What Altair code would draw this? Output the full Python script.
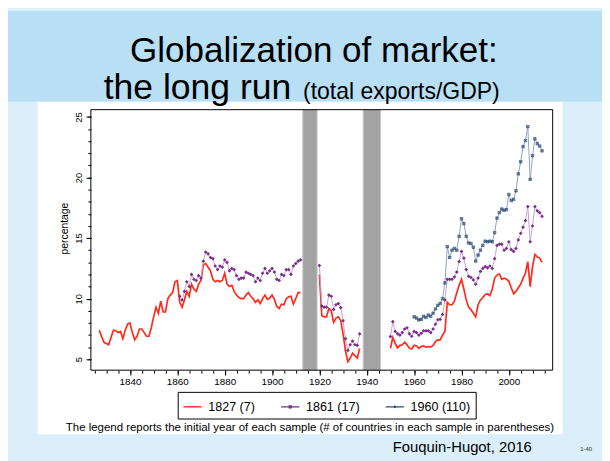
import altair as alt
import pandas as pd

# ---------------- data ----------------
series_labels = ["1827 (7)", "1861 (17)", "1960 (110)"]

red_pre_years = list(range(1827, 1913))
red_pre = [7.4, 6.9, 6.4, 6.3, 6.2, 6.8, 7.4, 7.35, 7.2, 7.3,
           6.7, 7.4, 7.9, 8.0, 7.2, 6.6, 6.9, 7.5, 7.5, 7.2,
           6.9, 6.9, 7.6, 8.5, 9.3, 8.8, 9.8, 8.9, 8.9, 10.0,
           10.3, 10.5, 11.4, 11.5, 9.7, 9.3, 9.9, 10.6, 10.2, 11.2,
           10.8, 10.6, 11.2, 11.5, 12.8, 12.9, 12.6, 12.3, 11.6, 11.4,
           11.5, 11.4, 11.5, 12.1, 11.2, 11.0, 11.1, 10.6, 10.3, 10.1,
           10.0, 10.0, 10.3, 10.5, 10.2, 10.0, 9.7, 9.9, 9.6, 10.0,
           10.3, 9.95, 10.05, 10.3, 9.95, 9.35, 9.2, 9.55, 9.5, 10.0,
           10.15, 10.2, 9.55, 10.0, 10.5, 10.5]

purple_pre_years = list(range(1861, 1913))
purple_pre = [10.2, 9.9, 10.6, 11.4, 11.0, 12.0, 11.6, 11.5, 11.9, 11.7,
              13.1, 13.85, 13.7, 13.4, 13.3, 12.7, 12.4, 12.7, 12.6, 13.2,
              13.0, 12.3, 12.5, 12.4, 11.9, 11.6, 11.7, 11.7, 12.2, 12.1,
              12.0, 11.9, 11.4, 11.7, 11.5, 12.1, 12.5, 12.1, 12.3, 12.5,
              12.2, 11.6, 11.5, 12.0, 11.9, 12.4, 12.4, 12.0, 12.7, 12.9,
              13.1, 13.2]

mid_years = list(range(1920, 1938))
red_mid = [12.0, 8.6, 8.5, 8.5, 9.2, 9.0, 8.05, 8.4, 8.5, 8.2,
           7.1, 5.7, 4.8, 5.1, 5.5, 5.3, 5.1, 5.9]
purple_mid = [12.74, 9.4, 9.3, 9.3, 10.3, 10.2, 9.1, 9.5, 9.6, 9.27,
              8.18, 6.7, 5.73, 6.2, 6.5, 6.2, 6.15, 7.1]

post_years = list(range(1950, 2015))
red_post = [5.9, 6.8, 6.3, 5.95, 6.15, 6.2, 6.4, 6.2, 5.9, 5.85,
            6.15, 6.1, 5.9, 6.05, 6.1, 6.0, 6.05, 6.0, 6.15, 6.45,
            6.6, 6.6, 7.0, 7.3, 9.7, 9.5, 9.5, 9.8, 10.5, 11.1,
            11.6, 10.8, 9.9, 9.3, 9.1, 8.8, 8.5, 9.5, 9.9, 10.1,
            10.35, 10.4, 10.25, 10.8, 11.7, 11.95, 12.05, 11.6, 11.7, 11.6,
            11.45, 10.9, 10.4, 10.6, 10.9, 11.2, 11.7, 12.1, 13.05, 11.0,
            12.65, 13.65, 13.45, 13.35, 13.0]
purple_post = [6.87, 8.1, 7.3, 7.1, 7.0, 7.2, 7.5, 7.6, 7.1, 6.9,
               7.3, 7.2, 7.0, 7.15, 7.35, 7.35, 7.35, 7.2, 7.5, 7.9,
               8.26, 8.3, 8.7, 9.9, 11.6, 11.6, 11.6, 11.8, 12.2, 13.06,
               13.9, 13.35, 12.4, 11.85, 11.75, 11.55, 11.2, 11.7, 12.25, 12.5,
               12.65, 12.55, 12.7, 12.5, 13.3, 14.4, 14.5, 14.5, 14.0, 14.15,
               14.7, 14.05, 13.9, 14.15, 14.85, 15.4, 15.9, 16.45, 17.6, 14.7,
               16.0, 17.6, 17.25, 17.1, 16.8]

blue_years = list(range(1960, 2015))
blue_post = [8.5, 8.4, 8.25, 8.3, 8.55, 8.45, 8.65, 8.55, 8.8, 9.15,
             9.45, 9.6, 10.0, 11.3, 14.3, 13.4, 14.0, 14.15, 14.0, 15.15,
             16.6, 16.2, 15.15, 14.6, 14.55, 14.25, 13.1, 13.6, 14.0, 14.4,
             14.75, 14.7, 14.75, 14.7, 15.45, 16.65, 17.1, 17.4, 17.3, 17.35,
             18.6, 18.1, 18.2, 18.9, 20.3, 21.3, 22.55, 23.05, 24.2, 19.85,
             21.8, 23.2, 22.8, 22.6, 22.2]

war_start = [1913, 1938.5]
war_end = [1919, 1945.8]

x_tick_labels = [1840, 1860, 1880, 1900, 1920, 1940, 1960, 1980, 2000]
x_minor_ticks = list(range(1825, 2019, 5))
y_tick_labels = [5, 10, 15, 20, 25]
y_minor_ticks = list(range(5, 26))

title_line1 = "Globalization of market:"
title_line2a = "the long run"
title_line2b = "(total exports/GDP)"
caption = "The legend reports the initial year of each sample (# of countries in each sample in parentheses)"
source = "Fouquin-Hugot, 2016"
slide_no = "1-40"


# ---------------- tables ----------------
def rows(series, seg, years, vals):
    return [{"series": series, "seg": seg, "year": y, "value": v} for y, v in zip(years, vals)]

red_df = pd.DataFrame(rows("red", "a", red_pre_years, red_pre)
                      + rows("red", "b", mid_years, red_mid)
                      + rows("red", "c", post_years, red_post))
purple_df = pd.DataFrame(rows("purple", "a", purple_pre_years, purple_pre)
                         + rows("purple", "b", mid_years, purple_mid)
                         + rows("purple", "c", post_years, purple_post))
blue_df = pd.DataFrame(rows("blue", "c", blue_years, blue_post))
war_df = pd.DataFrame({"start": war_start, "end": war_end})
legend_df = pd.DataFrame({"series": series_labels})
one = pd.DataFrame({"a": [0]})

FONT = "Liberation Sans"
W, H = 468, 264

xs = alt.Scale(domain=[1823.5, 2018.5], nice=False, zero=False)
ys = alt.Scale(domain=[4.1, 25.6], nice=False, zero=False)

x_major = alt.Axis(values=x_tick_labels, format="d", tickSize=5, labelFontSize=10,
                   labelFont=FONT, labelColor="black", tickColor="black", domain=False,
                   grid=False, title=None, orient="bottom", labelPadding=2, labelFlush=False,
                   zindex=2)
x_minor = alt.Axis(values=x_minor_ticks, tickSize=3, labels=False, domain=False,
                   grid=False, title=None, orient="bottom", tickColor="black", zindex=2)
y_major = alt.Axis(values=y_tick_labels, labelAngle=270, labelAlign="center",
                   labelBaseline="bottom", tickSize=5, labelPadding=3, labelFontSize=9.5,
                   labelFont=FONT, labelColor="black", tickColor="black",
                   title="percentage", titleFont=FONT, titleFontSize=10.5,
                   titleFontWeight="normal", titleColor="black", titlePadding=4,
                   titleY=120, orient="left", domain=False, grid=False, zindex=2)
y_minor = alt.Axis(values=y_minor_ticks, tickSize=3, labels=False, domain=False,
                   grid=False, title=None, orient="left", tickColor="black", zindex=2)

# ---------------- slide decoration ----------------
title_band = alt.Chart(one).mark_rect(color="#b9dff5").encode(
    x=alt.value(-84), x2=alt.value(W + 50), y=alt.value(-100), y2=alt.value(-8))
white_box = alt.Chart(one).mark_rect(color="white").encode(
    x=alt.value(-54), x2=alt.value(478), y=alt.value(-8), y2=alt.value(329))
frame = alt.Chart(one).mark_rect(fill="transparent", stroke="black", strokeWidth=1).encode(
    x=alt.value(0), x2=alt.value(W), y=alt.value(0), y2=alt.value(H))

t1 = alt.Chart(one).mark_text(text=title_line1, font=FONT, fontSize=35.5, align="center",
                              baseline="alphabetic", color="black").encode(
    x=alt.value(226), y=alt.value(-48))
t2a = alt.Chart(one).mark_text(text=title_line2a, font=FONT, fontSize=36, align="left",
                               baseline="alphabetic", color="black").encode(
    x=alt.value(13), y=alt.value(-11))
t2b = alt.Chart(one).mark_text(text=title_line2b, font=FONT, fontSize=23.3, align="left",
                               baseline="alphabetic", color="black").encode(
    x=alt.value(215), y=alt.value(-11))
cap = alt.Chart(one).mark_text(text=caption, font=FONT, fontSize=11.6, align="center",
                               baseline="alphabetic", color="black").encode(
    x=alt.value(222), y=alt.value(326))
src = alt.Chart(one).mark_text(text=source, font=FONT, fontSize=15, align="left",
                               baseline="alphabetic", color="black").encode(
    x=alt.value(306), y=alt.value(347))
num = alt.Chart(one).mark_text(text=slide_no, font=FONT, fontSize=6, align="left",
                               baseline="alphabetic", color="#333333").encode(
    x=alt.value(496), y=alt.value(346))

# ---------------- chart ----------------
wars = alt.Chart(war_df).mark_rect(color="#a3a3a3", stroke="#c4c4c4", strokeWidth=1).encode(
    x=alt.X("start:Q", scale=xs, axis=None), x2="end:Q")

minor = alt.Chart(red_df).mark_point(opacity=0).encode(
    x=alt.X("year:Q", scale=xs, axis=x_minor),
    y=alt.Y("value:Q", scale=ys, axis=y_minor))

red_line = alt.Chart(red_df).mark_line(color="#ff2a1a", strokeWidth=1.7).encode(
    x=alt.X("year:Q", scale=xs, axis=x_major),
    y=alt.Y("value:Q", scale=ys, axis=y_major),
    detail="seg:N")

purple_line = alt.Chart(purple_df).mark_line(color="#c7a2cd", strokeWidth=1).encode(
    x=alt.X("year:Q", scale=xs, axis=None), y=alt.Y("value:Q", scale=ys, axis=None),
    detail="seg:N")
purple_pts = alt.Chart(purple_df).mark_point(filled=True, shape="diamond", size=14,
                                             color="#7a2c8b", opacity=1).encode(
    x=alt.X("year:Q", scale=xs, axis=None), y=alt.Y("value:Q", scale=ys, axis=None))

blue_line = alt.Chart(blue_df).mark_line(color="#8fa3c0", strokeWidth=1).encode(
    x=alt.X("year:Q", scale=xs, axis=None), y=alt.Y("value:Q", scale=ys, axis=None),
    detail="seg:N")
blue_pts = alt.Chart(blue_df).mark_point(
    filled=False, shape="M-1,-1H1V1H-1ZM-1,-1L1,1M1,-1L-1,1", size=6,
    color="#2c4b73", strokeWidth=0.7, opacity=1).encode(
    x=alt.X("year:Q", scale=xs, axis=None), y=alt.Y("value:Q", scale=ys, axis=None))

leg = alt.Legend(orient="none", legendX=88, legendY=286, direction="horizontal",
                 strokeColor="black", fillColor="white", padding=5, labelFontSize=12.7,
                 labelFont=FONT, labelColor="black", symbolSize=340, symbolStrokeWidth=1.4,
                 symbolOpacity=1, columnPadding=22, labelOffset=6)
legend_layer = alt.Chart(legend_df).mark_point(opacity=0, filled=False).encode(
    color=alt.Color("series:N", title=None, legend=leg,
                    scale=alt.Scale(domain=series_labels,
                                    range=["#ff2a1a", "#7a2c8b", "#2c4b73"])),
    shape=alt.Shape("series:N", title=None, legend=leg,
                    scale=alt.Scale(domain=series_labels,
                                    range=["M-1,0H1",
                                           "M-1,0H1M-0.1,-0.1H0.1V0.1H-0.1Z",
                                           "M-1,0H1M-0.1,-0.1L0.1,0.1M0.1,-0.1L-0.1,0.1"])))

chart = alt.layer(
    title_band, white_box, t1, t2a, t2b, cap, src, num,
    wars, minor, red_line, purple_line, purple_pts, blue_line, blue_pts, frame, legend_layer
).resolve_axis(x="independent", y="independent").properties(
    width=W, height=H,
    autosize=alt.AutoSizeParams(type="none"),
    padding={"left": 84, "top": 100, "right": 50, "bottom": 89},
    background="#dbeffa",
).configure_view(stroke="black", strokeWidth=1, fill="white")

chart.save("out.html", embed_options={"renderer": "svg", "actions": False})
